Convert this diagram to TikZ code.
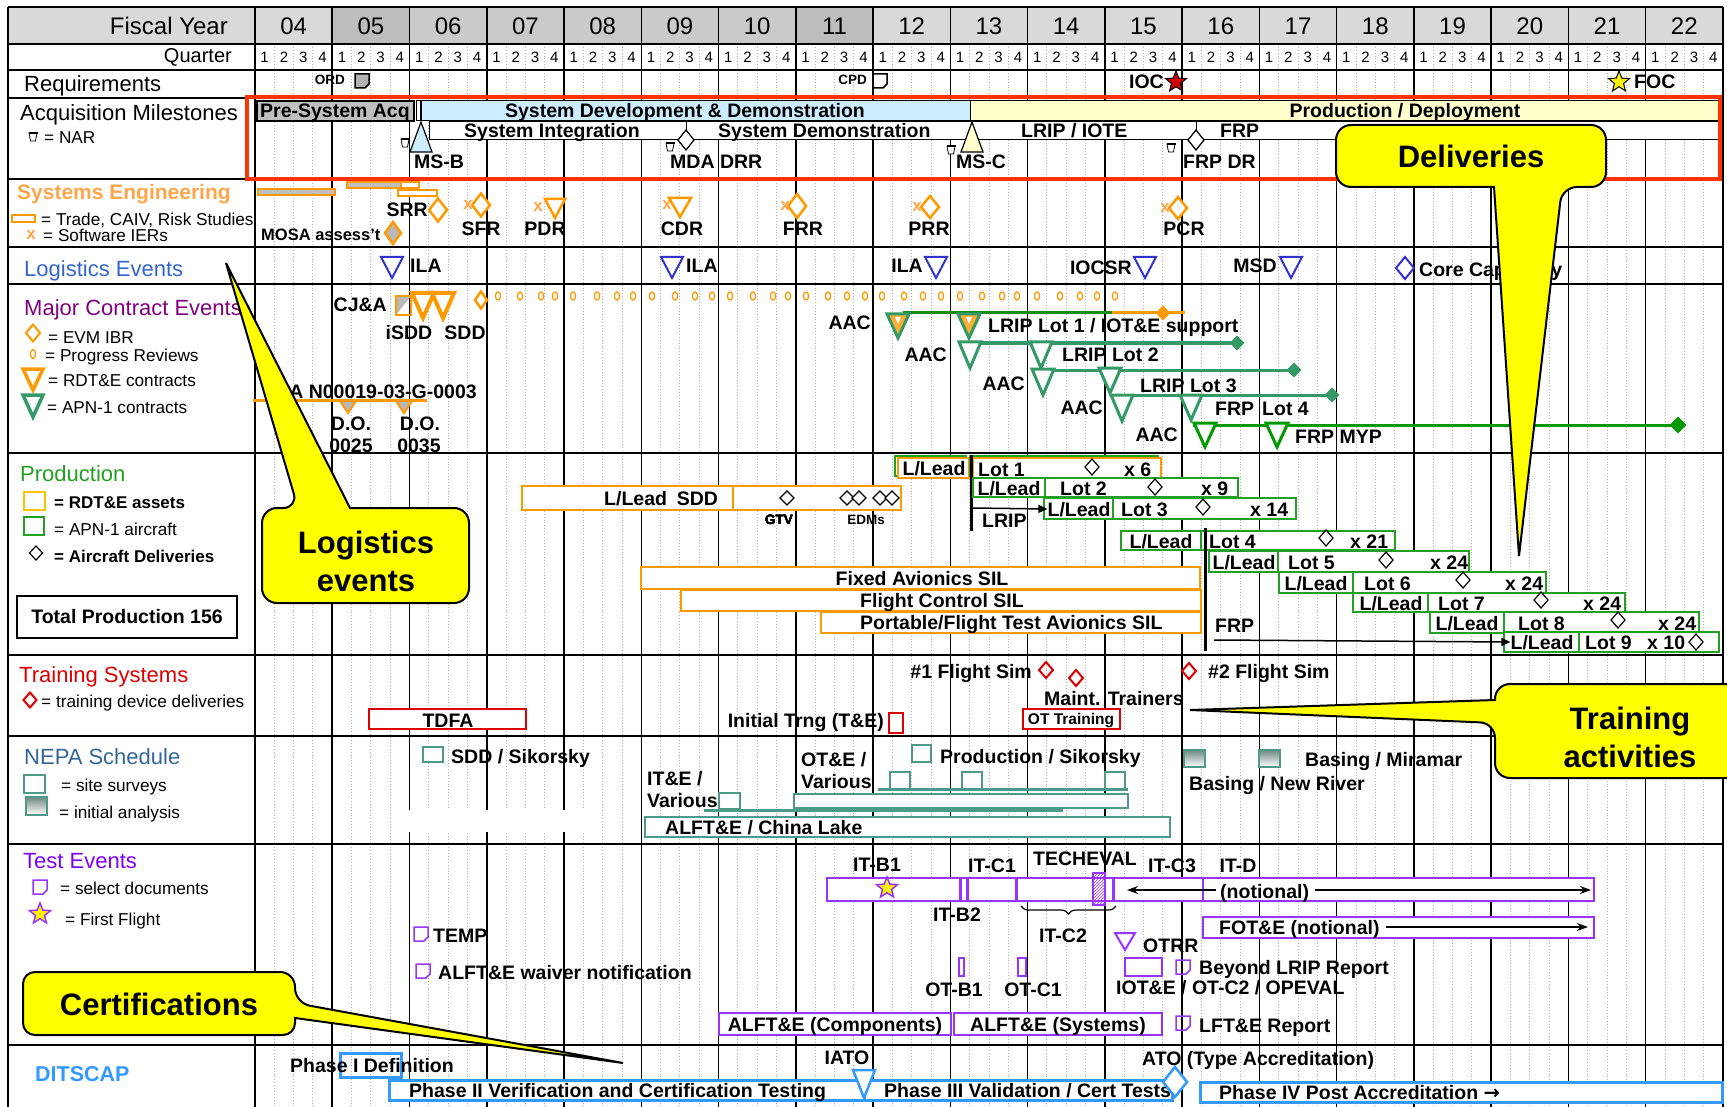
\documentclass[tikz,border=0pt]{standalone}
\usepackage{fontspec}
\setmainfont{Liberation Sans}
\newfontfamily\dejavu{DejaVu Sans}
\usetikzlibrary{shapes.geometric,arrows.meta,patterns,decorations.pathreplacing}
\newcommand\fs[1]{\fontsize{#1}{#1}\selectfont}
% colours
\definecolor{hdrA}{HTML}{D9D9D9}
\definecolor{hdrB}{HTML}{CACACA}
\definecolor{hdrC}{HTML}{BDBDBD}
\definecolor{boxred}{HTML}{FF3300}
\definecolor{seorange}{HTML}{FFA54A}
\definecolor{mkorange}{HTML}{FF9900}
\definecolor{logblue}{HTML}{3333CC}
\definecolor{logtitle}{HTML}{3366CC}
\definecolor{mcepurple}{HTML}{800080}
\definecolor{apngreen}{HTML}{339966}
\definecolor{dkgreen}{HTML}{1A8A1A}
\definecolor{mypgreen}{HTML}{009900}
\definecolor{prodgreen}{HTML}{22A022}
\definecolor{rdtyel}{HTML}{FFC000}
\definecolor{trainred}{HTML}{DD0000}
\definecolor{nepablue}{HTML}{336699}
\definecolor{nepateal}{HTML}{4E9A88}
\definecolor{testpurple}{HTML}{9933FF}
\definecolor{testtitle}{HTML}{8000FF}
\definecolor{ditblue}{HTML}{3399FF}
\definecolor{sddblue}{HTML}{CCECFF}
\definecolor{pdyellow}{HTML}{FFFFCC}
\definecolor{callyel}{HTML}{FFFF00}
% markers
\newcommand\dmd[5][]{\draw[#1] (#2,{#3-#5}) -- ({#2+#4},#3) -- (#2,{#3+#5}) -- ({#2-#4},#3) -- cycle;}
\newcommand\tdn[5][]{\draw[#1] ({#2-#4},#3) -- ({#2+#4},#3) -- (#2,{#3+#5}) -- cycle;}
\newcommand\nar[2]{\draw[line width=0.8pt, fill=white] ({#1-4},{#2-4}) -- ({#1+4},{#2-4}) -- ({#1+2.5},{#2+4}) -- ({#1-2.5},{#2+4}) -- cycle;
  \draw[line width=2pt] ({#1-4.5},{#2-4}) -- ({#1+4.5},{#2-4});}
\newcommand\docic[3][]{\draw[line width=1.5pt, #1] (#2,#3) -- ({#2+14},#3) -- ({#2+14},{#3+10}) -- ({#2+10},{#3+14}) -- (#2,{#3+14}) -- cycle;}
\tikzset{
  every node/.append style={inner sep=0pt},
  yline/.style={line width=1.6pt},
  qline/.style={gray!60, dotted, line width=0.9pt},
  rowline/.style={line width=1.8pt},
  ttl/.style={anchor=west, font=\fs{22}, text height=15.7pt, text depth=0pt},
  leg/.style={anchor=west, font=\fs{17.2}, text height=12.3pt, text depth=0pt},
  lbl/.style={font=\bfseries\fs{19.5}, text height=14pt, text depth=0pt},
  sml/.style={font=\bfseries\fs{13.5}, text height=9.7pt, text depth=0pt},
  xm/.style={text=seorange, font=\bfseries\fs{17}},
  semark/.style={draw=mkorange, line width=2.5pt, fill=white},
  logtri/.style={draw=logblue, line width=2pt, fill=white},
  apn/.style={draw=apngreen, line width=3pt, fill=white},
  dlv/.style={draw, line width=1.2pt, fill=white},
  gbox/.style={draw=prodgreen, line width=2pt, fill=white},
  obox/.style={draw=mkorange, line width=2pt, fill=white},
  rbox/.style={draw=trainred, line width=2pt, fill=white},
  nbox/.style={draw=nepateal, line width=2.5pt, fill=white},
  ngrad/.style={draw=nepateal, line width=2.5pt, top color=gray!70!nepateal, bottom color=white},
  tbox/.style={draw=testpurple, line width=2pt, fill=white},
  dbox/.style={draw=ditblue, line width=3pt},
  callout/.style={draw, line width=2pt, fill=callyel, rounded corners=15pt},
  ctext/.style={font=\bfseries\fontsize{31}{38}\selectfont, align=center},
  fivestar/.style={star, star points=5, star point ratio=2.3, minimum size=22pt, draw},
}
\begin{document}
\begin{tikzpicture}[x=1pt,y=-1pt]
\useasboundingbox (0,0) rectangle (1727,1107);
\fill[white] (0,0) rectangle (1727,1107);
% header
\fill[hdrA] (8,7) rectangle (255,44);
\foreach \yr/\c [count=\i from 0] in {04/hdrA,05/hdrC,06/hdrB,07/hdrB,08/hdrB,09/hdrB,10/hdrB,11/hdrC,12/hdrA,13/hdrA,14/hdrA,15/hdrA,16/hdrA,17/hdrA,18/hdrA,19/hdrA,20/hdrA,21/hdrA,22/hdrA}{
  \fill[\c] ({255+\i*77.26},7) rectangle ({255+(\i+1)*77.26},44);
  \node[font=\fs{24}] (fy\yr) at ({255+(\i+0.5)*77.26},26) {\yr};
}
\foreach \i in {0,...,18} \foreach \q in {1,...,4}
  \node[font=\fs{15}] (q\i-\q) at ({255+\i*77.26+(\q-0.5)*19.315},57) {\q};
% grid
\foreach \i in {0,...,18} \foreach \q in {1,2,3}
  \draw[qline] ({255+\i*77.26+\q*19.315},44) -- ({255+\i*77.26+\q*19.315},1107);
\foreach \i in {0,...,19} \draw[yline] ({255+\i*77.26},7) -- ({255+\i*77.26},1107);
\draw[yline] (8,7) -- (8,1107);
\foreach \y in {7,44,70,98,179,247,284,453,655,736,844,1045} \draw[rowline] (8,\y) -- (1723,\y);
\fill[white] (405,810) rectangle (585,832);
\node[anchor=east, font=\fs{24}] (fiscal) at (228,26) {Fiscal Year};
\node[anchor=east, font=\fs{20}] (quarter) at (232,57) {Quarter};

% row titles and legends
\node[ttl] (req) at (24,84) {Requirements};
\node[ttl] (acq) at (20,113) {Acquisition Milestones};
\nar{33}{137} \node[leg] (narleg) at (44,137) {= NAR};
\node[ttl, font=\bfseries\fs{21}, text=seorange] (se) at (17,192) {Systems Engineering};
\draw[draw=mkorange, line width=1.5pt] (12,215) rectangle (35,222);
\node[leg] (seleg1) at (41,219) {= Trade, CAIV, Risk Studies};
\node[xm] (xleg) at (31,235) {x};
\node[leg] (seleg2) at (43,235) {= Software IERs};
\node[ttl, text=logtitle] (log) at (24,269) {Logistics Events};
\node[ttl, text=mcepurple] (mce) at (24,308) {Major Contract Events};
\dmd[draw=mkorange, line width=2pt]{33}{333}{7}{8.5}
\node[leg] (mceleg1) at (48,337) {= EVM IBR};
\draw[mkorange, line width=1.3pt] (33,354) ellipse (2.6 and 4.5);
\node[leg] (mceleg2) at (45,355) {= Progress Reviews};
\tdn[draw=mkorange, line width=3.5pt]{33}{369}{10}{21}
\node[leg] (mceleg3) at (48,380) {= RDT\&E contracts};
\tdn[draw=apngreen, line width=3.5pt]{33}{395}{10}{22}
\node[leg] (mceleg4) at (47,407) {= APN-1 contracts};
\node[ttl, text=prodgreen] (prod) at (20,474) {Production};
\draw[rdtyel, line width=1.5pt] (24,492) rectangle (45,510);
\node[leg, font=\bfseries\fs{17}] (prodleg1) at (54,502) {= RDT\&E assets};
\draw[prodgreen, line width=1.5pt] (24,517) rectangle (44,535);
\node[leg] (prodleg2) at (54,529) {= APN-1 aircraft};
\dmd[dlv]{36}{553}{6.5}{7}
\node[leg, font=\bfseries\fs{17}] (prodleg3) at (54,556) {= Aircraft Deliveries};
\node[draw, line width=1.5pt, minimum width=220pt, minimum height=42pt, font=\bfseries\fs{19.5}] (total) at (127,617) {Total Production 156};
\node[ttl, text=trainred] (train) at (19,675) {Training Systems};
\dmd[draw=trainred, line width=2pt]{30}{700}{6.5}{7.5}
\node[leg] (trainleg) at (41,701) {= training device deliveries};
\node[ttl, text=nepablue] (nepa) at (24,757) {NEPA Schedule};
\draw[nbox] (24,775) rectangle (45,793);
\node[leg] (nepaleg1) at (61,785) {= site surveys};
\draw[ngrad] (26,797) rectangle (47,815);
\node[leg] (nepaleg2) at (59,812) {= initial analysis};
\node[ttl, text=testtitle] (test) at (23,861) {Test Events};
\docic[draw=testpurple]{33}{880}
\node[leg] (testleg1) at (60,888) {= select documents};
\node[fivestar, draw=testpurple, fill=yellow, line width=1.5pt] (ffleg) at (40,914) {};
\node[leg] (testleg2) at (65,919) {= First Flight};
\node[ttl, font=\bfseries\fs{21.5}, text=ditblue] (dit) at (35,1074) {DITSCAP};

% requirements
\node[sml, anchor=east] (ord) at (345,80) {ORD};
\docic[fill=gray!60]{355}{74}
\node[sml, anchor=east] (cpd) at (867,80) {CPD};
\docic[fill=white]{873}{74}
\node[lbl, anchor=east] (ioc) at (1164,82) {IOC};
\node[fivestar, fill=red!80!black, line width=1pt] (iocstar) at (1176,82) {};
\node[fivestar, fill=yellow, line width=1pt] (focstar) at (1619,82) {};
\node[lbl, anchor=west] (foc) at (1634,82) {FOC};

% acquisition milestones
\draw[fill=gray!50, line width=1.2pt] (257,101) rectangle (414,121);
\node[lbl] (psa) at (335,111) {Pre-System Acq};
\draw[fill=white, line width=1pt] (416,101) rectangle (420,121);
\draw[fill=sddblue, line width=1pt] (421,101) rectangle (970,121);
\node[lbl] (sdd) at (685,111) {System Development \& Demonstration};
\draw[fill=pdyellow, line width=1pt] (970,101) rectangle (1718,121);
\node[lbl] (pd) at (1405,111) {Production / Deployment};
\draw[fill=white, line width=1pt] (429,122) rectangle (1718,140);
\node[lbl, anchor=west] (si) at (464,131) {System Integration};
\node[lbl, anchor=west] (sdm) at (718,131) {System Demonstration};
\node[lbl, anchor=west] (lrip) at (1021,131) {LRIP / IOTE};
\node[lbl, anchor=west] (frp) at (1220,131) {FRP};
\draw[fill=sddblue, line width=1.2pt] (421,122) -- (432,152) -- (410,152) -- cycle;
\nar{405}{143}
\node[lbl, anchor=west] (msb) at (414,162) {MS-B};
\draw[line width=1pt] (686,122) -- (686,130);
\dmd[dlv]{686}{140}{8}{10}
\nar{670}{147}
\node[lbl, anchor=west] (mda) at (670,162) {MDA DRR};
\draw[fill=pdyellow, line width=1.2pt] (972,122) -- (983,152) -- (961,152) -- cycle;
\nar{951}{150}
\node[lbl, anchor=west] (msc) at (956,162) {MS-C};
\draw[line width=1pt] (1196,122) -- (1196,130);
\dmd[dlv]{1196}{140}{8}{10}
\nar{1171}{148}
\node[lbl, anchor=west] (frpdr) at (1183,162) {FRP DR};
\draw[boxred, line width=4pt] (247,97) rectangle (1720,179);

% systems engineering
\draw[draw=mkorange, fill=gray!50, line width=1.5pt] (258,189) rectangle (335,195);
\draw[draw=mkorange, fill=gray!50, line width=1.5pt] (347,182) rectangle (401,188);
\draw[draw=mkorange, fill=white, line width=1.5pt] (401,182) rectangle (419,188);
\draw[draw=mkorange, fill=white, line width=1.5pt] (398,190) rectangle (437,196);
\node[font=\bfseries\fs{16.5}, anchor=west, text height=11.8pt, text depth=0pt] (mosa) at (261,235) {MOSA assess't};
\dmd[draw=mkorange, fill=gray!55, line width=2.5pt]{393}{233}{8}{11}
\node[lbl, anchor=east] (srr) at (428,210) {SRR};
\dmd[semark]{438}{210}{9}{11.5}
\node[xm] (sfrx) at (468,205) {x};
\dmd[semark]{481}{205}{9}{11.5}
\node[lbl] (sfr) at (481,229) {SFR};
\node[xm] (pdrx) at (538,207) {x};
\tdn[semark]{555}{199}{10}{19}
\node[lbl] (pdr) at (545,229) {PDR};
\node[xm] (cdrx) at (667,205) {x};
\tdn[semark]{680}{198}{11}{19}
\node[lbl] (cdr) at (682,229) {CDR};
\node[xm] (frrx) at (785,206) {x};
\dmd[semark]{797}{206}{9}{12}
\node[lbl] (frr) at (803,229) {FRR};
\node[xm] (prrx) at (917,207) {x};
\dmd[semark]{930}{207}{9}{11}
\node[lbl] (prr) at (929,229) {PRR};
\node[xm] (pcrx) at (1165,208) {x};
\dmd[semark]{1178}{208}{9}{11}
\node[lbl] (pcr) at (1184,229) {PCR};

% logistics events
\tdn[logtri]{392}{257}{11}{21}
\node[lbl, anchor=west] (ila1) at (410,266) {ILA};
\tdn[logtri]{672}{257}{11}{21}
\node[lbl, anchor=west] (ila2) at (686,266) {ILA};
\node[lbl, anchor=east] (ila3) at (923,266) {ILA};
\tdn[logtri]{936}{257}{11}{21}
\node[lbl, anchor=east] (iocsr) at (1132,268) {IOCSR};
\tdn[logtri]{1145}{257}{11}{21}
\node[lbl, anchor=east] (msd) at (1277,266) {MSD};
\tdn[logtri]{1291}{257}{11}{21}
\dmd[draw=logblue, line width=2pt]{1405}{268}{9}{11}
\node[lbl, anchor=west] (core) at (1419,270) {Core Capability};

% major contract events
\node[lbl, anchor=east] (cja) at (387,305) {CJ\&A};
\fill[gray!55] (396,296) -- (411,296) -- (396,315) -- cycle;
\draw[mkorange, line width=2pt] (396,296) rectangle (411,315);
\tdn[draw=mkorange, line width=4pt, fill=white]{423}{293}{11}{25}
\tdn[draw=mkorange, line width=4pt, fill=white]{443}{293}{11}{25}
\node[lbl] (isdd) at (409,332) {iSDD};
\node[lbl] (sddc) at (465,332) {SDD};
\dmd[draw=mkorange, line width=2.5pt]{481}{300}{6}{8.5}
\foreach \x in {498,520,541,555,573,597,617,633,652,675,695,712,730,753,773,788,806,828,847,865,882,904,923,941,960,982,1002,1017,1037,1060,1080,1097,1115}
  \draw[mkorange, line width=1.3pt] (\x,296) ellipse (2.6 and 4);
\draw[mkorange, line width=3pt] (253,400) -- (427,400);
\node[lbl, anchor=east] (jna) at (477,391) {J\&A N00019-03-G-0003};
\tdn[draw=mkorange, fill=gray!55, line width=2pt]{348}{401}{8}{12}
\tdn[draw=mkorange, fill=gray!55, line width=2pt]{404}{401}{8}{12}
\node[lbl] (do1) at (351,423) {D.O.};
\node[lbl] (do1n) at (351,445) {0025};
\node[lbl] (do2) at (420,423) {D.O.};
\node[lbl] (do2n) at (419,445) {0035};
% LRIP lot 1
\draw[dkgreen, line width=3pt] (903,313) -- (1112,313);
\draw[mkorange, line width=3pt] (1112,313) -- (1185,313);
\dmd[fill=mkorange, draw=mkorange]{1163}{313}{7}{7}
\foreach \x in {898,969}{
  \tdn[draw=apngreen, fill=mkorange!80, line width=3pt]{\x}{314}{11}{24}
  \tdn[fill=white, draw=none]{\x}{317}{3}{7}
}
\node[lbl, anchor=east] (aac1) at (871,323) {AAC};
\node[lbl, anchor=west] (lot1c) at (988,326) {LRIP Lot 1 / IOT\&E support};
% LRIP lot 2
\draw[apngreen, line width=3pt] (960,343) -- (1237,343);
\dmd[fill=apngreen, draw=apngreen]{1237}{343}{7}{7}
\tdn[apn]{970}{342}{11}{26}
\tdn[apn]{1041}{342}{11}{26}
\node[lbl, anchor=east] (aac2) at (947,355) {AAC};
\node[lbl, anchor=west] (lot2c) at (1062,355) {LRIP Lot 2};
% LRIP lot 3
\draw[apngreen, line width=3pt] (1033,370) -- (1294,370);
\dmd[fill=apngreen, draw=apngreen]{1294}{370}{7}{7}
\tdn[apn]{1043}{369}{11}{26}
\tdn[apn]{1110}{368}{11}{25}
\node[lbl, anchor=east] (aac3) at (1025,383) {AAC};
\node[lbl, anchor=west] (lot3c) at (1140,385) {LRIP Lot 3};
% FRP lot 4
\draw[apngreen, line width=3pt] (1113,395) -- (1332,395);
\dmd[fill=apngreen, draw=apngreen]{1332}{395}{7}{7}
\tdn[apn]{1122}{395}{11}{26}
\tdn[apn]{1191}{395}{11}{25}
\node[lbl, anchor=east] (aac4) at (1103,407) {AAC};
\node[lbl, anchor=west] (frp4) at (1215,408) {FRP};
\node[lbl, anchor=west] (lot4c) at (1262,408) {Lot 4};
% FRP MYP
\draw[mypgreen, line width=3pt] (1193,425) -- (1678,425);
\dmd[fill=mypgreen, draw=mypgreen]{1678}{425}{8}{8}
\tdn[draw=mypgreen, line width=3pt, fill=white]{1205}{423}{11}{24}
\tdn[draw=mypgreen, line width=3pt, fill=white]{1277}{423}{11}{24}
\node[lbl, anchor=east] (aac5) at (1178,434) {AAC};
\node[lbl, anchor=west] (myp) at (1295,436) {FRP MYP};

% production
\draw[obox] (522,486) rectangle (733,510);
\node[lbl, anchor=west] (llsdd) at (604,498) {L/Lead\enspace SDD};
\draw[obox] (733,486) rectangle (901,510);
\foreach \x in {787,847,859,880,892} \dmd[dlv]{\x}{498}{7}{7}
\node[sml] (gtv) at (779,520) {GTV};
\node[sml] (edm) at (866,520) {EDMs};
\draw[obox] (641,567) rectangle (1200,589);
\node[lbl] (fas) at (922,578) {Fixed Avionics SIL};
\draw[obox] (681,590) rectangle (1201,611);
\node[lbl] (fcs) at (942,600) {Flight Control SIL};
\draw[obox] (821,612) rectangle (1201,633);
\node[lbl, anchor=west] (pfs) at (860,622) {Portable/Flight Test Avionics SIL};
% lot 1
\draw[gbox] (895,456) rectangle (966,476);
\draw[obox] (898,458) rectangle (969,478);
\node[lbl] (ll1) at (934,468) {L/Lead};
\draw[gbox] (970,456) rectangle (1158,476);
\draw[obox] (973,458) rectangle (1161,478);
\node[lbl, anchor=west] (lt1) at (978,469) {Lot 1};
\dmd[dlv]{1092}{467}{7}{8}
\node[lbl, anchor=west] (n1) at (1124,469) {x 6};
\draw[line width=3pt] (971,455) -- (971,531);
% lot 2
\draw[gbox] (973,478) rectangle (1045,497);
\node[lbl] (ll2) at (1009,488) {L/Lead};
\draw[gbox] (1045,478) rectangle (1238,497);
\node[lbl, anchor=west] (lt2) at (1060,488) {Lot 2};
\dmd[dlv]{1155}{487}{7}{8}
\node[lbl, anchor=west] (n2) at (1201,488) {x 9};
% lot 3
\draw[gbox] (1044,498) rectangle (1113,519);
\node[lbl] (ll3) at (1079,509) {L/Lead};
\draw[gbox] (1113,498) rectangle (1296,519);
\node[lbl, anchor=west] (lt3) at (1121,509) {Lot 3};
\dmd[dlv]{1203}{507}{7}{8}
\node[lbl, anchor=west] (n3) at (1250,509) {x 14};
\draw[-{Triangle[length=9pt,width=8pt]}, line width=1.5pt] (973,508) -- (ll3.west);
\node[lbl, anchor=west] (lripl) at (982,520) {LRIP};
% lot 4
\draw[gbox] (1121,531) rectangle (1201,550);
\node[lbl] (ll4) at (1161,541) {L/Lead};
\draw[gbox] (1201,531) rectangle (1395,550);
\node[lbl, anchor=west] (lt4) at (1209,541) {Lot 4};
\dmd[dlv]{1326}{538}{7}{8}
\node[lbl, anchor=west] (n4) at (1350,541) {x 21};
% lot 5
\draw[gbox] (1209,551) rectangle (1278,572);
\node[lbl] (ll5) at (1244,562) {L/Lead};
\draw[gbox] (1278,551) rectangle (1469,572);
\node[lbl, anchor=west] (lt5) at (1288,562) {Lot 5};
\dmd[dlv]{1386}{560}{7}{8}
\node[lbl, anchor=west] (n5) at (1430,562) {x 24};
% lot 6
\draw[gbox] (1279,572) rectangle (1353,593);
\node[lbl] (ll6) at (1316,583) {L/Lead};
\draw[gbox] (1353,572) rectangle (1546,593);
\node[lbl, anchor=west] (lt6) at (1364,583) {Lot 6};
\dmd[dlv]{1463}{580}{7}{8}
\node[lbl, anchor=west] (n6) at (1505,583) {x 24};
% lot 7
\draw[gbox] (1353,593) rectangle (1428,612);
\node[lbl] (ll7) at (1391,603) {L/Lead};
\draw[gbox] (1428,593) rectangle (1625,612);
\node[lbl, anchor=west] (lt7) at (1438,603) {Lot 7};
\dmd[dlv]{1541}{600}{7}{8}
\node[lbl, anchor=west] (n7) at (1583,603) {x 24};
% lot 8
\draw[gbox] (1430,612) rectangle (1504,633);
\node[lbl] (ll8) at (1467,623) {L/Lead};
\draw[gbox] (1504,612) rectangle (1699,633);
\node[lbl, anchor=west] (lt8) at (1518,623) {Lot 8};
\dmd[dlv]{1618}{620}{7}{8}
\node[lbl, anchor=west] (n8) at (1658,623) {x 24};
% lot 9
\draw[gbox] (1504,632) rectangle (1579,652);
\node[lbl] (ll9) at (1542,642) {L/Lead};
\draw[gbox] (1579,632) rectangle (1719,652);
\node[lbl, anchor=west] (lt9) at (1585,642) {Lot 9};
\node[lbl, anchor=west] (n9) at (1647,642) {x 10};
\dmd[dlv]{1696}{642}{7}{8}
\draw[line width=3pt] (1205,528) -- (1205,651);
\node[lbl, anchor=west] (frpl) at (1215,625) {FRP};
\draw[-{Triangle[length=9pt,width=8pt]}, line width=1.5pt] (1214,640) -- (ll9.west);

% training systems
\draw[rbox] (369,709) rectangle (526,729);
\node[lbl] (tdfa) at (448,720) {TDFA};
\node[lbl, anchor=east] (sim1) at (1032,671) {\#1 Flight Sim};
\dmd[draw=trainred, line width=2pt]{1046}{670}{7}{8}
\dmd[draw=trainred, line width=2pt]{1076}{678}{7}{8}
\node[lbl, anchor=west] (maint) at (1044,698) {Maint. Trainers};
\node[lbl, anchor=east] (itrng) at (884,720) {Initial Trng (T\&E)};
\draw[rbox] (889,713) rectangle (903,733);
\draw[rbox] (1023,709) rectangle (1120,729);
\node[font=\bfseries\fs{15.5}, text height=11pt, text depth=0pt] (ottr) at (1071,719) {OT Training};
\dmd[draw=trainred, line width=2pt]{1189}{671}{7}{8}
\node[lbl, anchor=west] (sim2) at (1208,671) {\#2 Flight Sim};

% NEPA schedule
\draw[nbox] (423,747) rectangle (443,762);
\node[lbl, anchor=west] (sddsik) at (451,756) {SDD / Sikorsky};
\node[lbl, anchor=west] (ite1) at (647,778) {IT\&E /};
\node[lbl, anchor=west] (ite2) at (647,800) {Various};
\draw[nepateal, line width=3pt] (704,810) -- (1063,810);
\draw[nbox] (719,793) rectangle (740,809);
\draw[nbox] (794,794) rectangle (1128,808);
\draw[nbox] (645,817) rectangle (1170,837);
\node[lbl, anchor=west] (china) at (665,827) {ALFT\&E / China Lake};
\node[lbl, anchor=west] (ote1) at (801,759) {OT\&E /};
\node[lbl, anchor=west] (ote2) at (801,781) {Various};
\draw[nepateal, line width=3pt] (878,789) -- (1128,789);
\foreach \x in {890,962,1105} \draw[nbox] (\x,772) rectangle ({\x+20},789);
\draw[nbox] (912,745) rectangle (931,762);
\node[lbl, anchor=west] (prodsik) at (940,756) {Production / Sikorsky};
\draw[ngrad] (1184,750) rectangle (1205,767);
\draw[ngrad] (1259,750) rectangle (1280,767);
\node[lbl, anchor=west] (mira) at (1305,759) {Basing / Miramar};
\node[lbl, anchor=west] (newr) at (1189,783) {Basing / New River};

% test events
\docic[draw=testpurple]{414}{927}
\node[lbl, anchor=west] (temp) at (433,935) {TEMP};
\docic[draw=testpurple]{416}{964}
\node[lbl, anchor=west] (waiver) at (438,972) {ALFT\&E waiver notification};
\draw[tbox] (827,878) rectangle (1203,901);
\draw[tbox] (1203,878) rectangle (1594,901);
\foreach \x in {960,967,1016,1113} \draw[testpurple, line width=3pt] (\x,878) -- (\x,901);
\draw[testpurple, line width=2pt, pattern=north east lines, pattern color=testpurple] (1093,873) rectangle (1105,905);
\node[fivestar, draw=testpurple, fill=yellow, line width=1.5pt] (ff) at (887,888) {};
\node[lbl, anchor=west] (notl) at (1220,891) {(notional)};
\draw[-{Stealth[length=11pt,width=8pt]}, line width=1.5pt] (notl.west) ++(-4,-1) -- (1127,890);
\draw[-{Stealth[length=11pt,width=8pt]}, line width=1.5pt] (1315,890) -- (1591,890);
\node[lbl] (itb1) at (877,864) {IT-B1};
\node[lbl] (itc1) at (992,865) {IT-C1};
\node[lbl] (tech) at (1085,858) {TECHEVAL};
\node[lbl] (itc3) at (1172,865) {IT-C3};
\node[lbl] (itd) at (1238,865) {IT-D};
\node[lbl] (itb2) at (957,914) {IT-B2};
\draw[decorate, decoration={brace, mirror, amplitude=8pt}, line width=1.2pt] (1021,906) -- (1116,906);
\node[lbl] (itc2) at (1063,935) {IT-C2};
\tdn[draw=testpurple, line width=2pt, fill=white]{1125}{933}{10}{17}
\node[lbl, anchor=west] (otrr) at (1143,945) {OTRR};
\draw[tbox] (959,958) rectangle (964,976);
\draw[tbox] (1018,958) rectangle (1026,976);
\draw[tbox] (1125,958) rectangle (1162,976);
\node[lbl] (otb1) at (954,989) {OT-B1};
\node[lbl] (otc1) at (1033,989) {OT-C1};
\node[lbl, anchor=west] (opeval) at (1116,987) {IOT\&E / OT-C2 / OPEVAL};
\docic[draw=testpurple]{1176}{960}
\node[lbl, anchor=west] (blrip) at (1199,967) {Beyond LRIP Report};
\draw[tbox] (719,1013) rectangle (951,1035);
\node[lbl] (alcomp) at (835,1024) {ALFT\&E (Components)};
\draw[tbox] (954,1013) rectangle (1162,1035);
\node[lbl] (alsys) at (1058,1024) {ALFT\&E (Systems)};
\docic[draw=testpurple]{1176}{1016}
\node[lbl, anchor=west] (lfte) at (1199,1025) {LFT\&E Report};
\draw[tbox] (1203,917) rectangle (1594,938);
\node[lbl, anchor=west] (fote) at (1219,927) {FOT\&E (notional)};
\draw[-{Stealth[length=11pt,width=8pt]}, line width=1.5pt] (1386,927) -- (1588,927);

% DITSCAP
\draw[dbox] (340,1053) rectangle (401,1077);
\node[lbl, anchor=west] (ph1) at (290,1065) {Phase I Definition};
\draw[dbox, fill=white] (389,1080) rectangle (864,1100);
\node[lbl, anchor=west] (ph2) at (409,1090) {Phase II Verification and Certification Testing};
\draw[dbox, fill=white] (864,1080) rectangle (1172,1100);
\node[lbl, anchor=west] (ph3) at (884,1090) {Phase III Validation / Cert Tests};
\tdn[draw=ditblue, line width=2.5pt, fill=white]{864}{1070}{11}{28}
\node[lbl] (iato) at (847,1057) {IATO};
\dmd[draw=ditblue, line width=2.5pt, fill=white]{1175}{1082}{12}{15}
\node[lbl, anchor=west] (ato) at (1142,1058) {ATO (Type Accreditation)};
\draw[dbox, fill=white] (1200,1082) rectangle (1722,1102);
\node[lbl, anchor=west] (ph4) at (1219,1092) {Phase IV Post Accreditation {\dejavu\bfseries →}};

% callouts
\draw[callout] (262,508) -- (298,508) [sharp corners] -- (226,263) -- (350,508) [rounded corners=15pt] -- (469,508) -- (469,603) -- (262,603) -- cycle;
\node[ctext] (clog) at (366,561) {Logistics\\events};
\draw[callout] (1336,125) -- (1606,125) -- (1606,187) -- (1562,187) [sharp corners] -- (1519,556) -- (1494,187) [rounded corners=15pt] -- (1336,187) -- cycle;
\node[ctext] (cdel) at (1471,156) {Deliveries};
\draw[callout] (1495,684) -- (1750,684) -- (1750,778) -- (1495,778) -- (1495,723) [sharp corners] -- (1190,710) -- (1495,700) [rounded corners=15pt] -- cycle;
\node[ctext] (ctrn) at (1630,737) {Training\\activities};
\draw[callout] (23,972) -- (295,972) -- (295,1003) [sharp corners] -- (623,1063) -- (295,1018) [rounded corners=12pt] -- (295,1035) -- (23,1035) -- cycle;
\node[ctext] (ccert) at (159,1004) {Certifications};
\end{tikzpicture}
\end{document}
